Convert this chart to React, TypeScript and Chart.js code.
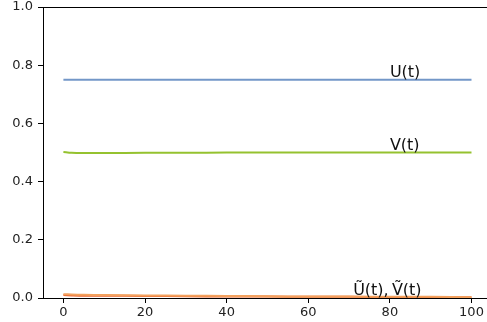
import React, { useEffect, useRef } from "react";
import { Chart, registerables } from "chart.js";

Chart.register(...registerables);

const tValues = [0, 2, 5, 10, 20, 30, 40, 50, 60, 70, 80, 90, 100];
const uValues = [0.75, 0.75, 0.75, 0.75, 0.75, 0.75, 0.75, 0.75, 0.75, 0.75, 0.75, 0.75, 0.75];
const vValues = [0.502, 0.499, 0.498, 0.498, 0.499, 0.499, 0.5, 0.5, 0.5, 0.5, 0.5, 0.5, 0.5];
const uTildeValues = [0.013, 0.012, 0.011, 0.01, 0.009, 0.008, 0.007, 0.006, 0.005, 0.005, 0.004, 0.004, 0.003];
const vTildeValues = [0.01, 0.009, 0.008, 0.008, 0.007, 0.006, 0.005, 0.005, 0.004, 0.004, 0.003, 0.003, 0.003];

const xTicks = [0, 20, 40, 60, 80, 100];
const yTicks = [0, 0.2, 0.4, 0.6, 0.8, 1.0];

const labelTexts = ["U(t)", "V(t)", "Ũ(t),\u2009Ṽ(t)"];
const labelX = [80, 80, 71];
const labelY = [0.76, 0.51, 0.01];

const FONT = "'DejaVu Sans', sans-serif";

export default function App() {
  const ref = useRef<HTMLCanvasElement>(null);

  useEffect(() => {
    document.body.style.margin = "0";
    const ctx = ref.current!;
    const mk = (ys: number[]) => tValues.map((t, i) => ({ x: t, y: ys[i] }));

    const annotPlugin = {
      id: "annot",
      afterDatasetsDraw(chart: any) {
        const c = chart.ctx;
        const xs = chart.scales.x;
        const ys = chart.scales.y;
        const a = chart.chartArea;
        c.save();
        c.strokeStyle = "#000";
        c.lineWidth = 1;
        c.beginPath();
        c.moveTo(a.left, Math.round(a.top) + 0.5);
        c.lineTo(a.right, Math.round(a.top) + 0.5);
        c.stroke();
        c.fillStyle = "#111";
        c.font = `16px ${FONT}`;
        c.textAlign = "left";
        c.textBaseline = "alphabetic";
        labelTexts.forEach((txt, i) => {
          c.fillText(txt, xs.getPixelForValue(labelX[i]), ys.getPixelForValue(labelY[i]));
        });
        c.restore();
      },
    };

    const chart = new Chart(ctx, {
      type: "line",
      data: {
        datasets: [
          { label: "U(t)", data: mk(uValues), borderColor: "#7397c8", borderWidth: 2, pointRadius: 0, tension: 0.3 },
          { label: "V(t)", data: mk(vValues), borderColor: "#95c22f", borderWidth: 2, pointRadius: 0, tension: 0.3 },
          { label: "Ũ(t)", data: mk(uTildeValues), borderColor: "#f3a15e", borderWidth: 2, pointRadius: 0, tension: 0.3 },
          { label: "Ṽ(t)", data: mk(vTildeValues), borderColor: "#e9652f", borderWidth: 2, pointRadius: 0, tension: 0.3 },
        ],
      },
      options: {
        animation: false,
        responsive: false,
        maintainAspectRatio: false,
        layout: { autoPadding: false, padding: { top: 7, right: 0, left: 0, bottom: 0 } },
        plugins: { legend: { display: false }, tooltip: { enabled: false } },
        scales: {
          x: {
            type: "linear",
            min: -5,
            max: 103.8,
            afterBuildTicks: (s: any) => {
              s.ticks = xTicks.map((v) => ({ value: v }));
            },
            afterFit: (s: any) => {
              s.height = 24;
              s.paddingLeft = 0;
              s.paddingRight = 0;
            },
            grid: { drawOnChartArea: false, tickLength: 5, tickColor: "#000", tickWidth: 1 },
            border: { display: true, color: "#000", width: 1 },
            ticks: { color: "#222", font: { family: FONT, size: 13 }, padding: 2, maxRotation: 0, autoSkip: false },
          },
          y: {
            type: "linear",
            min: 0,
            max: 1,
            afterBuildTicks: (s: any) => {
              s.ticks = yTicks.map((v) => ({ value: v }));
            },
            afterFit: (s: any) => {
              s.width = 43;
              s.paddingTop = 0;
              s.paddingBottom = 0;
            },
            grid: { drawOnChartArea: false, tickLength: 5, tickColor: "#000", tickWidth: 1 },
            border: { display: true, color: "#000", width: 1 },
            ticks: {
              color: "#222",
              font: { family: FONT, size: 13 },
              padding: 5,
              callback: (v: any) => Number(v).toFixed(1),
            },
          },
        },
      },
      plugins: [annotPlugin],
    });
    return () => chart.destroy();
  }, []);

  return (
    <div style={{ position: "absolute", left: 0, top: 0, width: 487, height: 322 }}>
      <canvas ref={ref} width={487} height={322} style={{ width: 487, height: 322 }} />
    </div>
  );
}
